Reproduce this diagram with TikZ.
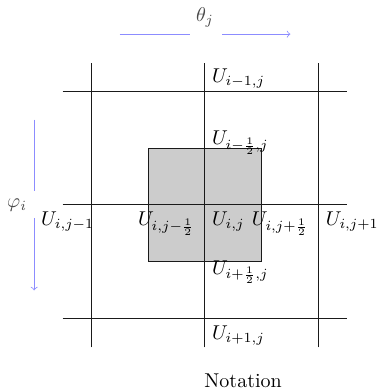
\documentclass[tikz,border=0pt]{standalone}
\usepackage{amsmath}
\usepackage{amssymb}
\usepackage{xcolor}
\definecolor{gridink}{HTML}{1A1A1A}
\definecolor{cellfill}{HTML}{CCCCCC}
\definecolor{axisblue}{HTML}{8C8CFF}
\definecolor{axislabel}{HTML}{4A4A4A}

\begin{document}
\begin{tikzpicture}[x=1cm, y=1cm, every node/.style={font=\normalsize}]
  \useasboundingbox (-3.6,-3.25) rectangle (3.04,3.6);

  \fill[cellfill] (-1,-1) rectangle (1,1);
  \draw[gridink, line width=0.5pt] (-1,-1) rectangle (1,1);
  \draw[gridink, line width=0.5pt] (-2,-2.5) -- (-2,2.5);
  \draw[gridink, line width=0.5pt] (0,-2.5) -- (0,2.5);
  \draw[gridink, line width=0.5pt] (2,-2.5) -- (2,2.5);
  \draw[gridink, line width=0.5pt] (-2.5,2) -- (2.5,2);
  \draw[gridink, line width=0.5pt] (-2.5,0) -- (2.5,0);
  \draw[gridink, line width=0.5pt] (-2.5,-2) -- (2.5,-2);

  \node[anchor=base west] (uim) at (0,2.144) {$U_{i-1,j}$};
  \node[anchor=base west] (uimh) at (0,1.054) {$U_{i-\frac{1}{2},j}$};
  \node[anchor=north west] (uij) at (0,0) {$U_{i,j}$};
  \node[anchor=north west] (ujmh) at (-1.3,0) {$U_{i,j-\frac{1}{2}}$};
  \node[anchor=north west] (ujph) at (0.7,0) {$U_{i,j+\frac{1}{2}}$};
  \node[anchor=north west] (ujm) at (-3,0) {$U_{i,j-1}$};
  \node[anchor=north west] (ujp) at (2,0) {$U_{i,j+1}$};
  \node[anchor=base west] (uiph) at (0,-1.213) {$U_{i+\frac{1}{2},j}$};
  \node[anchor=north west] (uip) at (0,-2) {$U_{i+1,j}$};

  \node[axislabel] (theta) at (0,3.3) {$\theta_j$};
  \coordinate (thetaL) at (-1.5,3);
  \coordinate (thetaR) at (1.5,3);
  \node[minimum width=0.56cm, inner sep=0pt] (thetagap) at (0.02,3) {};
  \draw[axisblue] (thetaL) -- (thetagap.west);
  \draw[axisblue, ->] (thetagap.east) -- (thetaR);

  \node[axislabel] (phi) at (-3.3,0) {$\varphi_i$};
  \coordinate (phiT) at (-3,1.5);
  \coordinate (phiB) at (-3,-1.5);
  \node[minimum height=0.46cm, inner sep=0pt] (phigap) at (-3,0) {};
  \draw[axisblue] (phiT) -- (phigap.north);
  \draw[axisblue, ->] (phigap.south) -- (phiB);

  \node (caption) at (0.67,-3.08) {Notation};

\end{tikzpicture}
\end{document}
